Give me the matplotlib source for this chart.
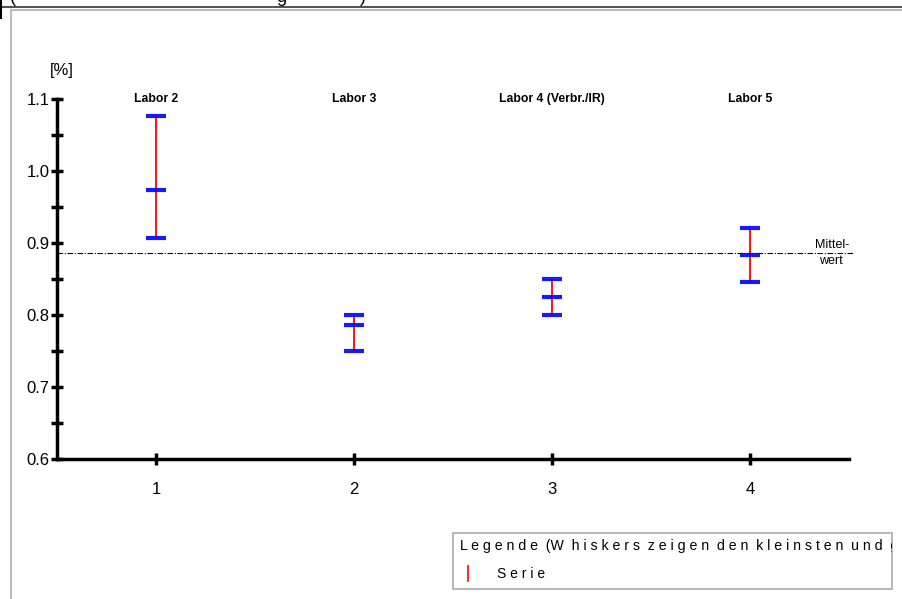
import matplotlib.pyplot as plt
from matplotlib.lines import Line2D
from matplotlib.patches import Rectangle

plt.rcParams['font.family'] = ['Liberation Sans', 'DejaVu Sans']

# Werte pro Labor (Minimum, Mittel, Maximum)
labor_namen = ["Labor 2", "Labor 3", "Labor 4 (Verbr./IR)", "Labor 5"]
positionen = [1, 2, 3, 4]
minimum = [0.907, 0.750, 0.800, 0.846]
mitte = [0.974, 0.786, 0.825, 0.884]
maximum = [1.077, 0.800, 0.850, 0.921]
mittelwert = 0.886

W, H = 903, 599
fig = plt.figure(figsize=(W / 100, H / 100), dpi=100)

# Rahmen oben / links
fig.add_artist(Line2D([0, 1], [1 - 6.5 / H, 1 - 6.5 / H], color='#333333', lw=1.2))
fig.add_artist(Line2D([1 / W, 1 / W], [1, 1 - 18 / H], color='black', lw=1.5))
fig.add_artist(Line2D([11 / W, 1], [1 - 9.5 / H, 1 - 9.5 / H], color='#bbbbbb', lw=1.5))
fig.add_artist(Line2D([11 / W, 11 / W], [0, 1 - 9.5 / H], color='#bbbbbb', lw=1.5))

# abgeschnittener Titel oben (nur Unterlängen sichtbar)
for xs, ch in [(10, "("), (276, "g"), (360, ")")]:
    fig.text(xs / W, 1 - 2 / H, ch, fontsize=13, va='baseline', ha='left')

ax = fig.add_axes([57 / W, 1 - 459 / H, (849 - 57) / W, (459 - 99) / H])
ax.set_xlim(0.5, 4.5)
ax.set_ylim(0.6, 1.1)
for s in ['top', 'right']:
    ax.spines[s].set_visible(False)
ax.spines['left'].set_linewidth(2.5)
ax.spines['bottom'].set_linewidth(2.5)
ax.set_xticks(positionen)
ax.set_yticks([0.6, 0.7, 0.8, 0.9, 1.0, 1.1])
ax.set_yticklabels(["0.6", "0.7", "0.8", "0.9", "1.0", "1.1"])
ax.set_yticks([0.65, 0.75, 0.85, 0.95, 1.05], minor=True)
ax.tick_params(axis='y', which='both', direction='inout', length=9, width=2.5, labelsize=12, pad=1)
ax.tick_params(axis='x', direction='inout', length=9, width=2.5, labelsize=12, pad=12)

# Mittelwert-Linie
ax.plot([0.5, 4.52], [mittelwert, mittelwert], color='black', lw=0.8, ls=(0, (5, 1.5, 1, 1.5)), clip_on=False)
ax.text(4.5, mittelwert + 0.003, "Mittel-", fontsize=9, ha='right', va='bottom')
ax.text(4.47, mittelwert - 0.003, "wert", fontsize=9, ha='right', va='top')

# Whisker
ax.vlines(positionen, minimum, maximum, color='red', lw=1.3, zorder=3)
for werte in (minimum, mitte, maximum):
    ax.plot(positionen, werte, ls='none', marker='_', ms=15, mew=3, color='blue', alpha=0.9, zorder=4)

for x, name in zip(positionen, labor_namen):
    ax.text(x, 1.1, name, fontsize=8.8, fontweight='bold', ha='center', va='center')

fig.text(62 / W, 1 - 70 / H, "[%]", fontsize=12, ha='center', va='center')

# Legende
fig.add_artist(Rectangle((453 / W, 1 - 589 / H), (892 - 453) / W, 56 / H,
                         fill=False, edgecolor='#aaaaaa', lw=1.2))
t = fig.text(460 / W, 1 - 546 / H, "L e g e n d e  (W  h i s k e r s  z e i g e n  d e n  k l e i n s t e n  u n d  g r ö ß t e n  W e r t)",
             fontsize=10.2, ha='left', va='center')
t.set_clip_path(Rectangle((453, 0), 439, H, transform=None))
t.set_clip_on(True)
fig.add_artist(Line2D([468 / W, 468 / W], [1 - 566 / H, 1 - 581 / H], color='red', lw=1.2))
fig.text(497 / W, 1 - 574 / H, "S e r i e", fontsize=10, ha='left', va='center')

fig.savefig("out.png", dpi=100)
